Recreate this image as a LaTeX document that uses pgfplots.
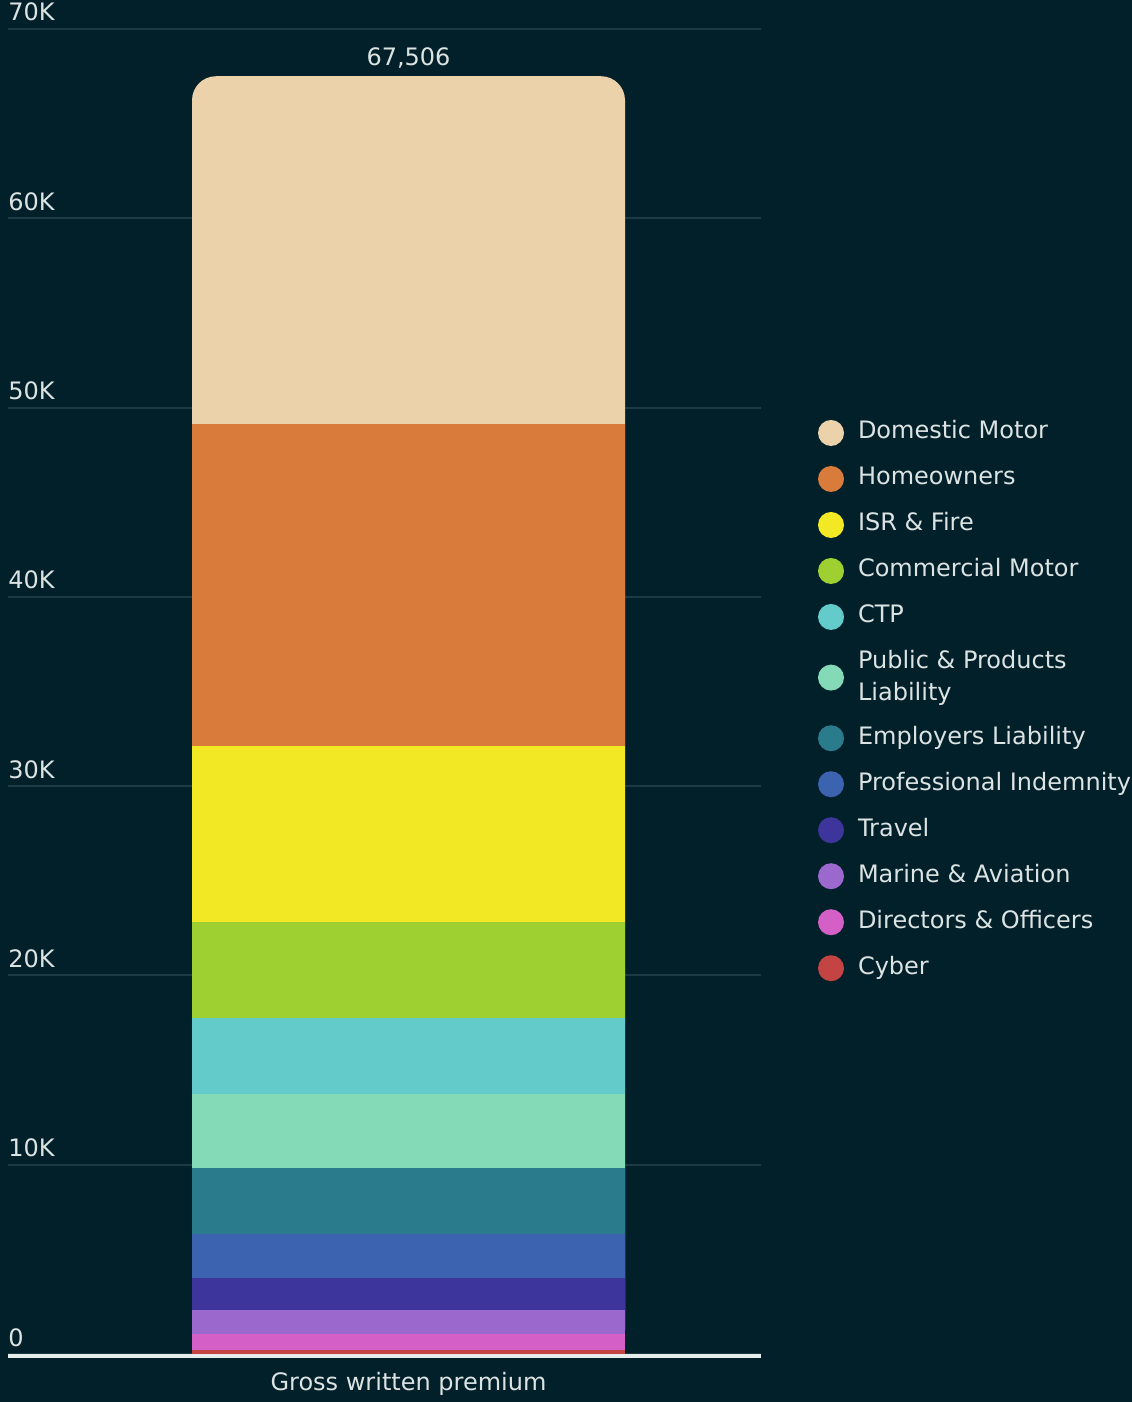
\documentclass[border=0pt]{standalone}
\usepackage{fontspec}
\setmainfont{DejaVu Sans}
\usepackage{pgfplots}
\pgfplotsset{compat=1.18}

\definecolor{bgcol}{HTML}{02202A}
\definecolor{gridcol}{HTML}{1D3943}
\definecolor{axiscol}{HTML}{E6EDEC}
\definecolor{txtcol}{HTML}{DCE3E3}
\definecolor{cDomestic}{HTML}{EBD2AA}
\definecolor{cHome}{HTML}{D97B3A}
\definecolor{cISR}{HTML}{F2E924}
\definecolor{cComm}{HTML}{9DD030}
\definecolor{cCTP}{HTML}{63CBC9}
\definecolor{cPublic}{HTML}{84D9B6}
\definecolor{cEmpl}{HTML}{2A7C8C}
\definecolor{cProf}{HTML}{3C63B0}
\definecolor{cTravel}{HTML}{3E359C}
\definecolor{cMarine}{HTML}{9B68CE}
\definecolor{cDirect}{HTML}{D45FC6}
\definecolor{cCyber}{HTML}{C44343}

\newcommand\lbl{\fontsize{12bp}{16bp}\selectfont}

\pgfplotsset{
  frame/.style={
    at={(4bp,24bp)}, anchor=south west,
    scale only axis, width=376.5bp, height=662.5bp,
    xmin=-400.5, xmax=352.5, ymin=0, ymax=70000,
    bar width=216.5bp,
  },
  seg/.style={fill=#1, draw=none,
    legend image code/.code={\fill[fill=#1] (0bp,0bp) circle (6.5bp);}},
}

\begin{document}
\begin{tikzpicture}
\useasboundingbox (0,0) rectangle (566bp,701bp);
\fill[bgcol] (0,0) rectangle (566bp,701bp);

% grid, ticks and the rounded total bar (its top is Domestic Motor)
\begin{axis}[
  frame, ybar,
  axis lines=left,
  axis line style={-},
  y axis line style={draw=none},
  x axis line style={-, draw=axiscol, line width=2bp, yshift=-1bp},
  ymajorgrids, grid style={draw=gridcol, line width=1bp},
  ytick={0,10000,...,70000},
  yticklabels={0,10K,20K,30K,40K,50K,60K,70K},
  xtick={0}, xticklabels={Gross written premium},
  major tick length=0pt, tick style={draw=none},
  yticklabel style={anchor=base west, inner sep=0pt, yshift=4bp, font=\lbl, text=txtcol},
  xticklabel style={anchor=base, inner sep=0pt, yshift=-18bp, font=\lbl, text=txtcol},
  /pgf/number format/assume math mode=true,
  clip=false,
  nodes near coords={\pgfmathprintnumber[fixed, precision=0, 1000 sep={,}]{\pgfplotspointmeta}},
  nodes near coords style={anchor=base, yshift=5.5bp, inner sep=0pt, font=\lbl, text=txtcol},
]
\addplot[fill=cDomestic, draw=none, rounded corners=12bp] coordinates {(0,67506)};
\end{axis}

% the stack below Domestic Motor
\begin{axis}[
  frame, ybar stacked,
  hide axis,
  legend cell align=left, reverse legend,
  legend style={at={(1.0757,0.70492)}, anchor=north west,
    draw=none, fill=none, inner sep=0pt, outer sep=0pt,
    row sep=10bp, column sep=7bp, font=\lbl, text=txtcol,
    nodes={inner sep=0pt, text height=9bp, text depth=3bp}},
]
\addplot[seg=cCyber] coordinates {(0,230)};
\addlegendentry{Cyber}
\addplot[seg=cDirect] coordinates {(0,827)};
\addlegendentry{Directors \& Officers}
\addplot[seg=cMarine] coordinates {(0,1267)};
\addlegendentry{Marine \& Aviation}
\addplot[seg=cTravel] coordinates {(0,1691)};
\addlegendentry{Travel}
\addplot[seg=cProf] coordinates {(0,2324)};
\addlegendentry{Professional Indemnity}
\addplot[seg=cEmpl] coordinates {(0,3487)};
\addlegendentry{Employers Liability}
\addplot[seg=cPublic] coordinates {(0,3925)};
\addlegendentry[align=left, text height=, text depth=]{Public \& Products\\Liability}
\addplot[seg=cCTP] coordinates {(0,3999)};
\addlegendentry{CTP}
\addplot[seg=cComm] coordinates {(0,5071)};
\addlegendentry{Commercial Motor}
\addplot[seg=cISR] coordinates {(0,9297)};
\addlegendentry{ISR \& Fire}
\addplot[seg=cHome] coordinates {(0,17010)};
\addlegendentry{Homeowners}
\addlegendimage{seg=cDomestic}
\addlegendentry{Domestic Motor}
\end{axis}
\end{tikzpicture}
\end{document}
